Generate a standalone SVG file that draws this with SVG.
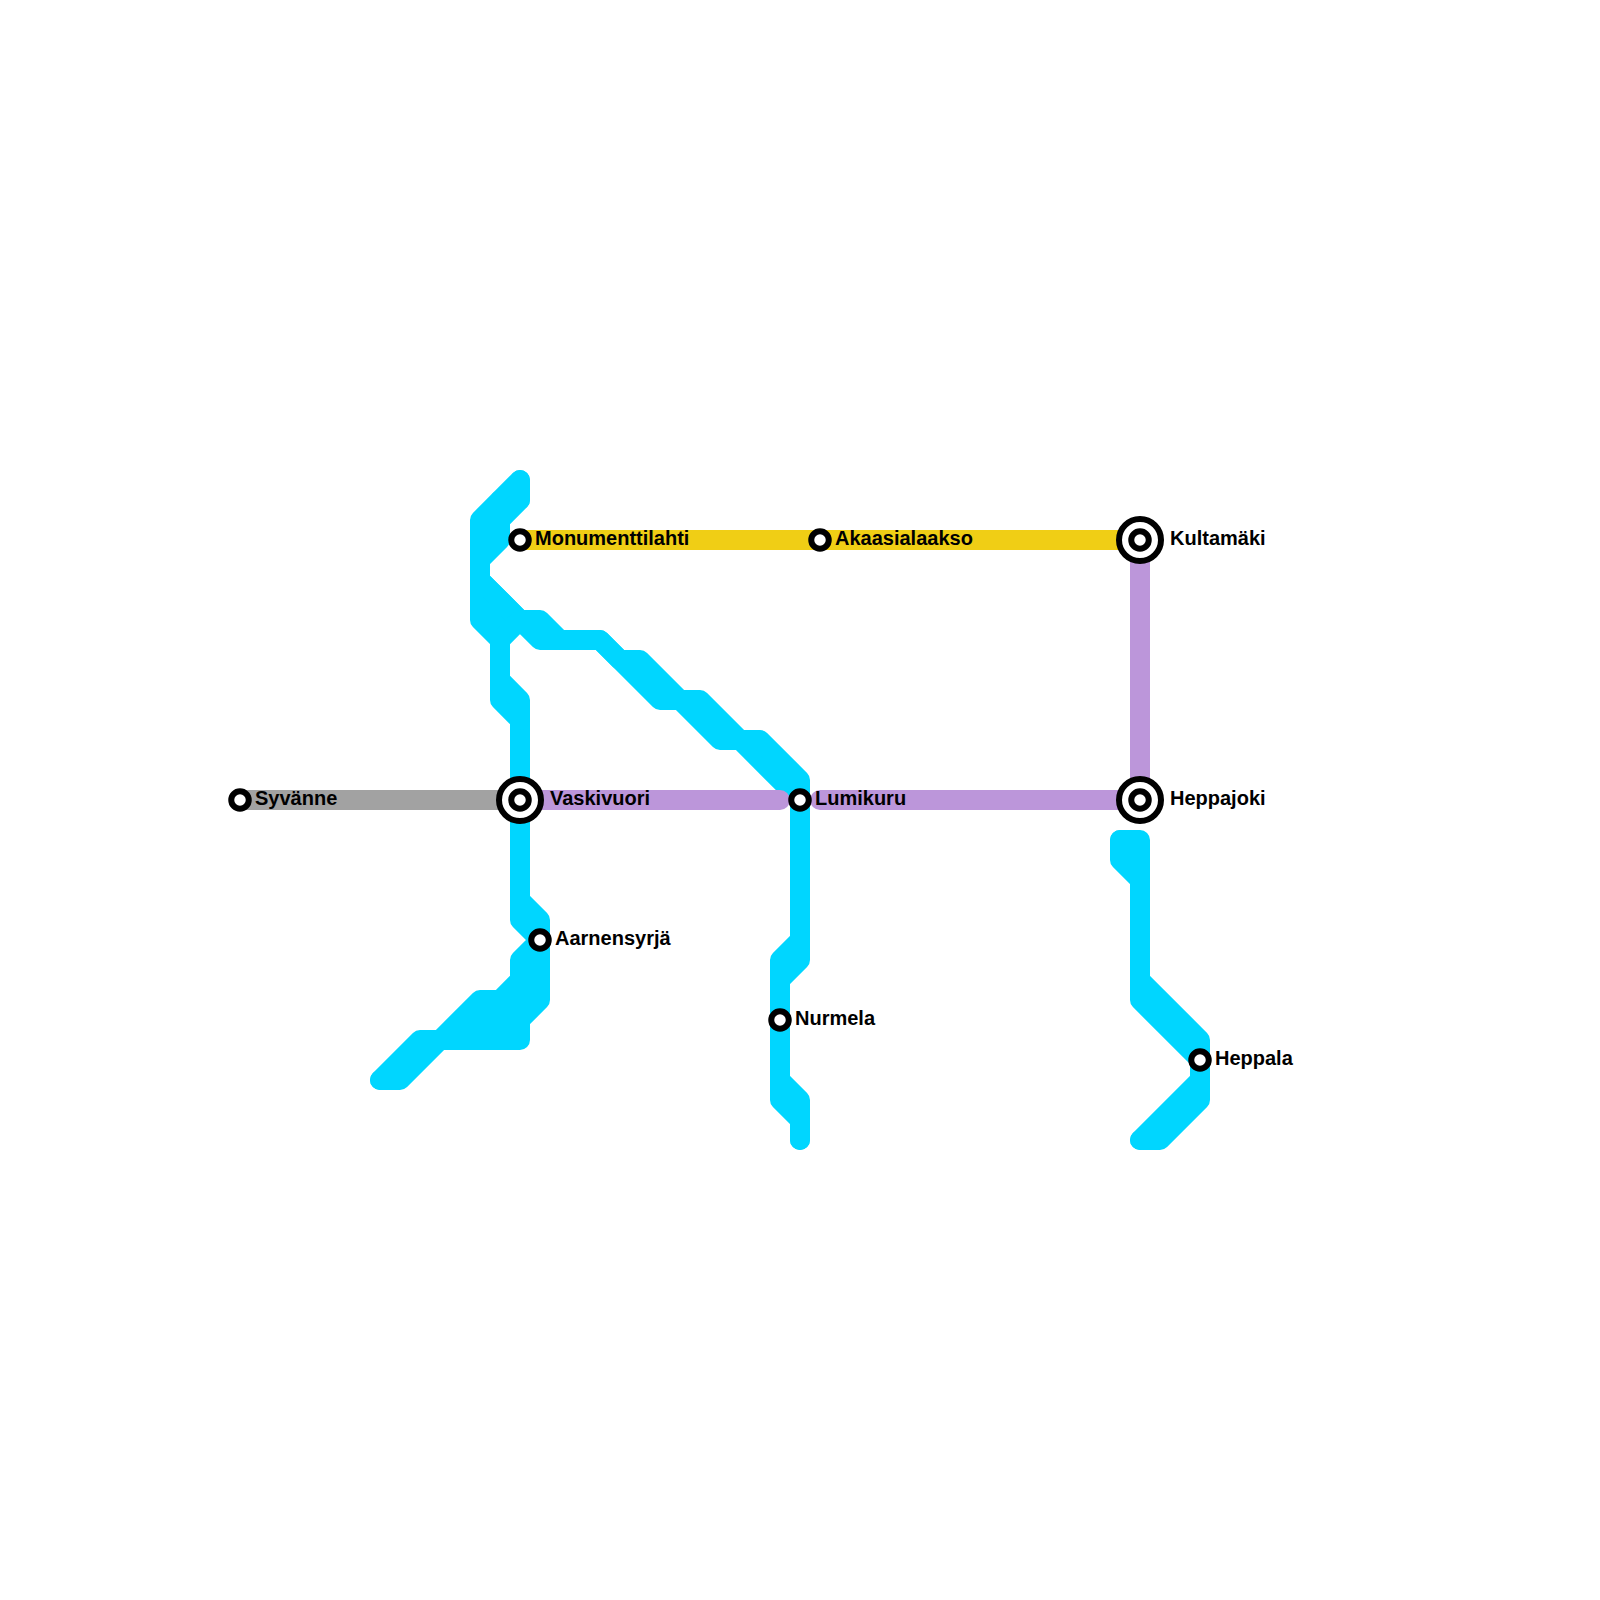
<svg xmlns="http://www.w3.org/2000/svg" width="1600" height="1600" viewBox="0 0 1600 1600">
<style>
.l{fill:none;stroke-width:20;stroke-linecap:round;stroke-linejoin:round}
.c{stroke:#00d6ff}.y{stroke:#f0ce15;stroke-linecap:butt}.g{stroke:#a2a2a2;stroke-linecap:butt}.p{stroke:#bc96da}
.f{fill:#00d6ff}
.r{fill:#fff;stroke:#000;stroke-width:6}.o{fill:#fff;stroke:#000;stroke-width:6}
text{font-family:"Liberation Sans",Arial,sans-serif;font-weight:700;font-size:20px;fill:#000}
</style>
<rect width="1600" height="1600" fill="#fff"/>
<g id="connectors">
<path class="l c" d="M520 480L480 520V620L500 640V700L520 720V900"/>
<path class="l c" d="M500 640V680L520 700V720"/>
<path class="l c" d="M480 540L500 520V500H520"/>
<path class="l c" d="M480 600L500 620V640"/>
<path class="l c" d="M520 480V500L500 520V540L480 560V580L540 640H600L660 700H680L720 740H740L800 800"/>
<path class="l c" d="M480 580L520 620H540L560 640H600L620 660H640L680 700H700L740 740H760L800 780V960L780 980V1080L800 1100V1140"/>
<path class="l c" d="M500 640L520 620"/>
<path class="l c" d="M800 940L780 960V1100L800 1120V1140"/>
<path class="l c" d="M520 800V920L540 940L520 960V980L500 1000H480L440 1040H420L380 1080"/>
<path class="l c" d="M520 900L540 920V1000L520 1020V1040H440L400 1080H380"/>
<path class="f" d="M520 960L540 940V1000L520 1020V1040H440L480 1000H500L520 980Z"/>
<path class="l c" d="M1120 840H1140V980L1200 1040V1100L1160 1140H1140"/>
<path class="l c" d="M1120 840V860L1140 880V1000L1200 1060V1080L1140 1140"/>
<path class="l g" d="M240 800H520"/>
<path class="l y" d="M520 540H1140"/>
<path class="l p" d="M520 800H780"/>
<path class="l p" d="M820 800H1140"/>
<path class="l p" style="stroke-linecap:butt" d="M1140 540V800"/>
</g>
<g id="syvanne"><circle class="r" cx="240" cy="800" r="8.75"/><text x="255" y="805">Syvänne</text></g>
<g id="vaskivuori"><circle class="o" cx="520" cy="800" r="21"/><circle class="r" cx="520" cy="800" r="8.75"/><text x="550" y="805">Vaskivuori</text></g>
<g id="lumikuru"><circle class="r" cx="800" cy="800" r="8.75"/><text x="815" y="805">Lumikuru</text></g>
<g id="heppajoki"><circle class="o" cx="1140" cy="800" r="21"/><circle class="r" cx="1140" cy="800" r="8.75"/><text x="1170" y="805">Heppajoki</text></g>
<g id="monumenttilahti"><circle class="r" cx="520" cy="540" r="8.75"/><text x="535" y="545">Monumenttilahti</text></g>
<g id="akaasialaakso"><circle class="r" cx="820" cy="540" r="8.75"/><text x="835" y="545">Akaasialaakso</text></g>
<g id="kultamaki"><circle class="o" cx="1140" cy="540" r="21"/><circle class="r" cx="1140" cy="540" r="8.75"/><text x="1170" y="545">Kultamäki</text></g>
<g id="aarnensyrja"><circle class="r" cx="540" cy="940" r="8.75"/><text x="555" y="945">Aarnensyrjä</text></g>
<g id="nurmela"><circle class="r" cx="780" cy="1020" r="8.75"/><text x="795" y="1025">Nurmela</text></g>
<g id="heppala"><circle class="r" cx="1200" cy="1060" r="8.75"/><text x="1215" y="1065">Heppala</text></g>
</svg>
